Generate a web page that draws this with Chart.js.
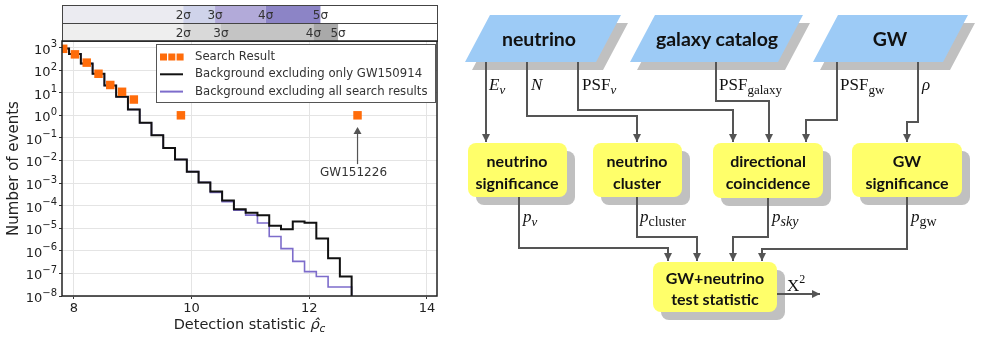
<!DOCTYPE html>
<html>
<head>
<meta charset="utf-8">
<script src="https://cdn.jsdelivr.net/npm/chart.js@4/dist/chart.umd.min.js"></script>
<style>
body { margin: 0; background: #fff; width: 1005px; height: 341px; overflow: hidden; position: relative; }
#left { position: absolute; left: 0; top: 0; width: 445px; height: 341px; }
#flow { position: absolute; left: 0; top: 0; }
.box { font-family: Lato, "Open Sans", sans-serif; font-weight: bold; font-size: 16px; fill: #111; }
.head { font-family: Lato, "Open Sans", sans-serif; font-weight: bold; font-size: 19.5px; fill: #111; }
.math { font-family: "Liberation Serif", "DejaVu Serif", serif; font-size: 17px; fill: #111; }
</style>
</head>
<body>
<div id="left"><canvas id="events"></canvas></div>

<svg id="flow" width="1005" height="341" xmlns="http://www.w3.org/2000/svg">
  <defs>
    <marker id="arr" markerUnits="userSpaceOnUse" markerWidth="10" markerHeight="10" refX="5" refY="9" orient="0">
      <path d="M1 1 L9 1 L5 9 Z" fill="#555"/>
    </marker>
    <marker id="arrR" markerUnits="userSpaceOnUse" markerWidth="10" markerHeight="10" refX="9" refY="5" orient="0">
      <path d="M1 1 L9 5 L1 9 Z" fill="#555"/>
    </marker>
  </defs>

  <!-- input parallelograms -->
  <g fill="#c0c0c0">
    <polygon points="497,23 628,23 603,70 472,70"/>
    <polygon points="662,23 810,23 785,70 637,70"/>
    <polygon points="845,23 975,23 950,70 820,70"/>
  </g>
  <g fill="#9dcbf6">
    <polygon points="490,15 621,15 596,62 465,62"/>
    <polygon points="655,15 803,15 778,62 630,62"/>
    <polygon points="838,15 968,15 943,62 813,62"/>
  </g>
  <text class="head" x="539" y="46" text-anchor="middle">neutrino</text>
  <text class="head" x="717" y="46" text-anchor="middle">galaxy catalog</text>
  <text class="head" x="890" y="46" text-anchor="middle">GW</text>

  <!-- connectors from the inputs -->
  <g fill="none" stroke="#555" stroke-width="2">
    <path d="M486 62 V142" marker-end="url(#arr)"/>
    <path d="M527 62 V116 H637 V142" marker-end="url(#arr)"/>
    <path d="M578 62 V110 H733 V142" marker-end="url(#arr)"/>
    <path d="M716 62 V101 H769 V142" marker-end="url(#arr)"/>
    <path d="M837 62 V120 H806 V142" marker-end="url(#arr)"/>
    <path d="M918 62 V122 H907 V142" marker-end="url(#arr)"/>
  </g>
  <text class="math" x="489" y="90"><tspan font-style="italic">E</tspan><tspan font-style="italic" font-size="13" dy="4">ν</tspan></text>
  <text class="math" x="531" y="90" font-style="italic">N</text>
  <text class="math" x="582" y="90">PSF<tspan font-style="italic" font-size="13" dy="4">ν</tspan></text>
  <text class="math" x="719" y="90">PSF<tspan font-size="13" dy="4">galaxy</tspan></text>
  <text class="math" x="840" y="90">PSF<tspan font-size="13" dy="4">gw</tspan></text>
  <text class="math" x="922" y="90" font-style="italic">ρ</text>

  <!-- processing boxes -->
  <g fill="#c0c0c0">
    <rect x="476" y="151" width="99" height="54" rx="8"/>
    <rect x="601" y="151" width="89" height="54" rx="8"/>
    <rect x="721" y="151" width="110" height="55" rx="8"/>
    <rect x="860" y="151" width="110" height="54" rx="8"/>
    <rect x="661" y="270" width="124" height="50" rx="8"/>
  </g>
  <g fill="#ffff6a">
    <rect x="468" y="143" width="99" height="54" rx="8"/>
    <rect x="593" y="143" width="89" height="54" rx="8"/>
    <rect x="713" y="143" width="110" height="55" rx="8"/>
    <rect x="852" y="143" width="110" height="54" rx="8"/>
    <rect x="653" y="262" width="124" height="50" rx="8"/>
  </g>
  <text class="box" text-anchor="middle"><tspan x="517" y="167">neutrino</tspan><tspan x="517" y="189">significance</tspan></text>
  <text class="box" text-anchor="middle"><tspan x="637" y="167">neutrino</tspan><tspan x="637" y="189">cluster</tspan></text>
  <text class="box" text-anchor="middle"><tspan x="768" y="167">directional</tspan><tspan x="768" y="189">coincidence</tspan></text>
  <text class="box" text-anchor="middle"><tspan x="907" y="167">GW</tspan><tspan x="907" y="189">significance</tspan></text>
  <text class="box" text-anchor="middle"><tspan x="715" y="284">GW+neutrino</tspan><tspan x="715" y="305">test statistic</tspan></text>

  <!-- connectors to the test statistic -->
  <g fill="none" stroke="#555" stroke-width="2">
    <path d="M519 197 V248 H668 V261" marker-end="url(#arr)"/>
    <path d="M637 197 V237 H697 V261" marker-end="url(#arr)"/>
    <path d="M768 198 V237 H733 V261" marker-end="url(#arr)"/>
    <path d="M907 197 V249 H762 V261" marker-end="url(#arr)"/>
    <path d="M777 294 H820" marker-end="url(#arrR)"/>
  </g>
  <text class="math" x="523" y="222" font-size="19"><tspan font-style="italic">p</tspan><tspan font-style="italic" font-size="13" dy="4">ν</tspan></text>
  <text class="math" x="640" y="222" font-size="19"><tspan font-style="italic">p</tspan><tspan font-size="14" dy="4">cluster</tspan></text>
  <text class="math" x="772" y="222" font-size="19"><tspan font-style="italic">p</tspan><tspan font-style="italic" font-size="14" dy="4">sky</tspan></text>
  <text class="math" x="911" y="222" font-size="19"><tspan font-style="italic">p</tspan><tspan font-size="14" dy="4">gw</tspan></text>
  <text class="math" x="787" y="291" font-size="19">X<tspan font-size="12" dy="-8">2</tspan></text>
</svg>

<script>
// bin edges of the background histograms (detection statistic)
const binEdges = [7.72, 7.92, 8.12, 8.32, 8.52, 8.72, 8.92, 9.12, 9.32, 9.52, 9.72, 9.92, 10.12,
                  10.32, 10.52, 10.72, 10.92, 11.12, 11.32, 11.52, 11.72, 11.92, 12.12, 12.32, 12.52, 12.72];
// number of events per bin, background excluding only GW150914
const bgOnly = [900, 520, 195, 69, 21, 6.6, 1.8, 0.47, 0.13, 0.036, 0.011, 0.0032, 0.00107,
                4.2e-4, 1.7e-4, 7e-5, 4.9e-5, 3.8e-5, 1.3e-5, 9e-6, 2e-5, 1.75e-5, 3.5e-6, 4.7e-7, 7.3e-8];
// background excluding all search results
const bgAll = [900, 520, 195, 69, 21, 6.6, 1.8, 0.47, 0.13, 0.036, 0.011, 0.0032, 0.00107,
               3.8e-4, 1.5e-4, 6.3e-5, 3.8e-5, 1.7e-5, 4.3e-6, 1.25e-6, 3.4e-7, 1.2e-7, 7.3e-8, 2.5e-8, 2.5e-8];
// search result
const searchX = [7.82, 8.02, 8.22, 8.42, 8.62, 8.82, 9.02, 9.82, 12.82];
const searchCount = [880, 500, 215, 69, 22, 11, 5, 1, 1];

const xTicks = [8, 10, 12, 14];
const yTicks = [1e-8, 1e-7, 1e-6, 1e-5, 1e-4, 1e-3, 1e-2, 1e-1, 1, 10, 100, 1000];

// significance bands shown above the plot
const sigmaNames = ['2σ', '3σ', '4σ', '5σ'];
const sigmaRow1 = [9.86, 10.40, 11.26, 12.19];
const sigmaRow2 = [9.86, 10.50, 12.07, 12.49];

function step(values) {
    // last edge closes the final bin and drops out of the plot
    return binEdges.map((x, i) => ({x: x, y: i < values.length ? values[i] : 1e-12}));
}

const extras = {
    id: 'extras',
    afterDraw(chart) {
        const ctx = chart.ctx;
        const a = chart.chartArea;
        const xs = chart.scales.x, ys = chart.scales.y;

        // sigma bands
        const rows = [
            {edges: sigmaRow1, top: 5, base: '#ebebf1', fills: ['#cfd3ea', '#b2aad9', '#8c84c6']},
            {edges: sigmaRow2, top: 23, base: '#eeeeee', fills: ['#d9d9d9', '#c4c4c4', '#a9a9a9']}
        ];
        rows.forEach(r => {
            const h = 18;
            ctx.fillStyle = '#fff';
            ctx.fillRect(a.left, r.top, a.right - a.left, h);
            ctx.fillStyle = r.base;
            ctx.fillRect(a.left, r.top, xs.getPixelForValue(r.edges[0]) - a.left, h);
            for (var i = 0; i < r.fills.length; i++) {
                const x0 = xs.getPixelForValue(r.edges[i]), x1 = xs.getPixelForValue(r.edges[i + 1]);
                ctx.fillStyle = r.fills[i];
                ctx.fillRect(x0, r.top, x1 - x0, h);
            }
            ctx.strokeStyle = '#444';
            ctx.lineWidth = 1;
            ctx.strokeRect(a.left + 0.5, r.top + 0.5, a.right - a.left, h);
            ctx.fillStyle = '#333';
            ctx.font = '12px "DejaVu Sans"';
            ctx.textAlign = 'center';
            ctx.textBaseline = 'middle';
            r.edges.forEach((e, i) => ctx.fillText(sigmaNames[i], xs.getPixelForValue(e), r.top + 11));
        });

        // frame
        ctx.strokeStyle = '#222';
        ctx.lineWidth = 1.5;
        ctx.strokeRect(a.left, a.top, a.right - a.left, a.bottom - a.top);

        // y tick labels as 10 with a raised exponent
        ctx.fillStyle = '#222';
        ctx.textBaseline = 'alphabetic';
        ctx.textAlign = 'left';
        yTicks.forEach(v => {
            const y = ys.getPixelForValue(v);
            const e = String(Math.round(Math.log10(v))).replace('-', '−');
            ctx.font = '10px "DejaVu Sans"';
            const we = ctx.measureText(e).width;
            ctx.font = '13px "DejaVu Sans"';
            const wb = ctx.measureText('10').width;
            const right = a.left - 5;
            ctx.fillText('10', right - we - wb, y + 6);
            ctx.font = '10px "DejaVu Sans"';
            ctx.fillText(e, right - we, y - 0.5);
        });

        // legend
        const lx = a.left + 94, ly = a.top + 3;
        ctx.fillStyle = '#fff';
        ctx.fillRect(lx, ly, 279, 58);
        ctx.strokeStyle = '#555';
        ctx.lineWidth = 1;
        ctx.strokeRect(lx + 0.5, ly + 0.5, 279, 58);
        ctx.font = '11.7px "DejaVu Sans"';
        ctx.textAlign = 'left';
        ctx.textBaseline = 'middle';
        const ds = chart.data.datasets;
        for (var k = 0; k < 3; k++) {
            const cy = ly + 13 + k * 17.3;
            if (k === 0) {
                ctx.fillStyle = ds[0].backgroundColor;
                for (var j = 0; j < 3; j++) ctx.fillRect(lx + 4 + j * 8.3, cy - 3.5, 7, 7);
            } else {
                ctx.strokeStyle = ds[k].borderColor;
                ctx.lineWidth = 2;
                ctx.beginPath();
                ctx.moveTo(lx + 4, cy);
                ctx.lineTo(lx + 27, cy);
                ctx.stroke();
            }
            ctx.fillStyle = '#333';
            ctx.fillText(ds[k].label, lx + 39, cy);
        }

        // GW151226 annotation
        const px = xs.getPixelForValue(searchX[searchX.length - 1]);
        const tip = ys.getPixelForValue(0.3);
        ctx.strokeStyle = '#555';
        ctx.fillStyle = '#555';
        ctx.lineWidth = 1.2;
        ctx.beginPath();
        ctx.moveTo(px, tip + 37);
        ctx.lineTo(px, tip + 4);
        ctx.stroke();
        ctx.beginPath();
        ctx.moveTo(px, tip);
        ctx.lineTo(px - 4, tip + 7);
        ctx.lineTo(px + 4, tip + 7);
        ctx.closePath();
        ctx.fill();
        ctx.fillStyle = '#333';
        ctx.font = '12px "DejaVu Sans"';
        ctx.textAlign = 'center';
        ctx.fillText('GW151226', px - 4, tip + 46);

        // x axis title with subscript
        ctx.textBaseline = 'alphabetic';
        ctx.textAlign = 'left';
        const t1 = 'Detection statistic ';
        ctx.font = '14.5px "DejaVu Sans"';
        const w1 = ctx.measureText(t1).width;
        ctx.font = 'italic 14.5px "DejaVu Sans"';
        const w2 = ctx.measureText('ρ̂').width;
        ctx.font = 'italic 10.5px "DejaVu Sans"';
        const w3 = ctx.measureText('c').width;
        var tx = (a.left + a.right) / 2 - (w1 + w2 + w3) / 2;
        const ty = 329;
        ctx.fillStyle = '#222';
        ctx.font = '14.5px "DejaVu Sans"';
        ctx.fillText(t1, tx, ty);
        ctx.font = 'italic 14.5px "DejaVu Sans"';
        ctx.fillText('ρ̂', tx + w1, ty);
        ctx.font = 'italic 10.5px "DejaVu Sans"';
        ctx.fillText('c', tx + w1 + w2, ty + 3);
    }
};

var ctxEvents = document.getElementById('events');
var eventsChart = new Chart(ctxEvents, {
    type: 'line',
    data: {
        datasets: [{
            label: 'Search Result',
            data: searchX.map((x, i) => ({x: x, y: searchCount[i]})),
            showLine: false,
            pointStyle: 'rect',
            pointRadius: 6,
            pointBorderWidth: 0,
            backgroundColor: '#ff6c0a',
            borderColor: '#ff6c0a'
        }, {
            label: 'Background excluding only GW150914',
            data: step(bgOnly),
            stepped: 'before',
            borderColor: '#111111',
            borderWidth: 2,
            pointRadius: 0
        }, {
            label: 'Background excluding all search results',
            data: step(bgAll),
            stepped: 'before',
            borderColor: '#7d6ccb',
            borderWidth: 1.6,
            pointRadius: 0
        }]
    },
    options: {
        responsive: true,
        maintainAspectRatio: false,
        animation: false,
        layout: {padding: {top: 41, right: 8, left: 0, bottom: 0}},
        plugins: {legend: {display: false}, tooltip: {enabled: false}},
        scales: {
            x: {
                type: 'linear',
                min: 7.8,
                max: 14.17,
                afterBuildTicks: s => { s.ticks = xTicks.map(v => ({value: v})); },
                afterFit: s => { s.height = 45; },
                grid: {color: '#e4e4e4', drawTicks: true, tickLength: 3, tickColor: '#333'},
                border: {display: false},
                ticks: {color: '#222', padding: 2, font: {family: 'DejaVu Sans', size: 13}, maxRotation: 0}
            },
            y: {
                type: 'logarithmic',
                min: 1e-8,
                max: 1950,
                afterBuildTicks: s => { s.ticks = yTicks.map(v => ({value: v})); },
                afterFit: s => { s.width = 62; },
                grid: {color: '#e4e4e4', drawTicks: true, tickLength: 3, tickColor: '#333'},
                border: {display: false},
                ticks: {display: false},
                title: {display: true, text: 'Number of events', color: '#222', padding: {top: 5, bottom: 0},
                        font: {family: 'DejaVu Sans', size: 15}}
            }
        }
    },
    plugins: [extras]
});
</script>
</body>
</html>
